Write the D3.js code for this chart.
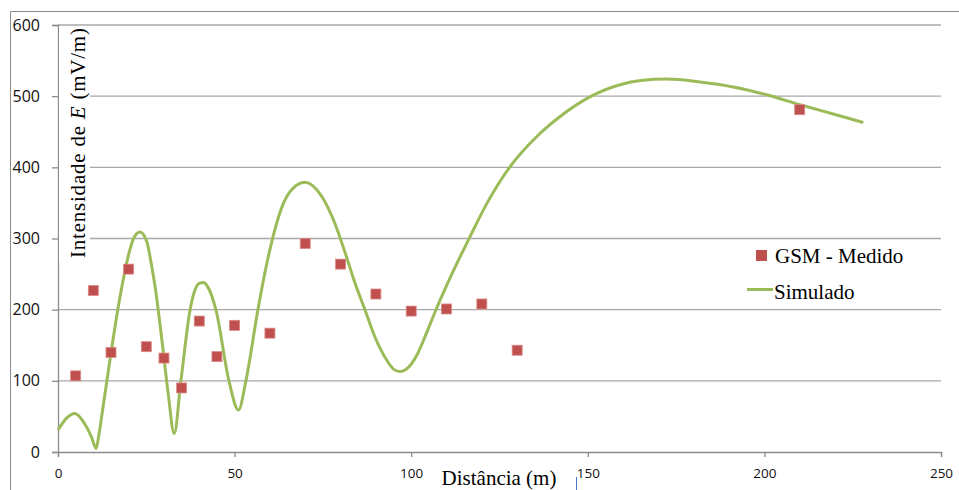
<!DOCTYPE html>
<html>
<head>
<meta charset="utf-8">
<script src="https://cdn.jsdelivr.net/npm/d3@7"></script>
<style>
  html, body { margin: 0; padding: 0; background: #fff; }
  svg { display: block; }
</style>
</head>
<body>
<svg id="chart" width="959" height="490"></svg>
<script>
// Measured field strength (GSM) at each distance
const measuredX = [5, 10, 15, 20, 25, 30, 35, 40, 45, 50, 60, 70, 80, 90, 100, 110, 120, 130, 210];
const measuredY = [107, 227, 140, 257, 148, 132, 90, 184, 134, 178, 167, 293, 264, 222, 198, 201, 208, 143, 481];

// Simulated field strength along the path
const simX = [0, 2.5, 4.8, 7.5, 9.5, 10.8, 11.6, 12.8, 14.2, 15.7, 18, 20.4, 21.4, 23.2, 25.1, 26.5, 27.5, 29.4,
  31.2, 32.9, 34.8, 37.4, 38.8, 40, 41.1, 42.4, 44.7, 48.4, 51.1, 53.2, 56.6, 59, 60.5, 62, 63.3, 66.2,
  69.9, 74.7, 78.4, 81.3, 84.1, 86.9, 89.7, 93.1, 95, 96.8, 98.5, 100.1, 101.8, 103.4, 107.2, 111.9, 116.6,
  121.4, 128, 135.5, 143.1, 150.6, 159.1, 165, 172.3, 181.8, 191.2, 200.6, 210.1, 219.5, 228];
const simY = [31, 48, 54, 40, 21, 5, 25, 65, 112, 162, 230, 285, 300, 309, 296, 262, 232, 158,
  82, 26, 100, 200, 228, 237, 238, 232, 200, 100, 59, 100, 200, 262, 295, 323, 343, 369,
  379, 359, 321, 280, 237, 200, 162, 129, 116.5, 113, 116, 124, 138, 156, 202, 254, 302,
  349, 401, 443, 475, 499, 516, 522, 524, 520, 513, 502, 488, 475, 463];

const xTicks = [0, 50, 100, 150, 200, 250];
const yTicks = [0, 100, 200, 300, 400, 500, 600];

const seriesNames = ["GSM - Medido", "Simulado"];
const measuredColor = "#C0504D";
const simColor = "#9BBB59";

const svg = d3.select("#chart");

const x = d3.scaleLinear().domain([0, 250]).range([58, 941]);
const y = d3.scaleLinear().domain([0, 600]).range([452, 25]);

// outer chart frame (top and left edges in view)
svg.append("path")
  .attr("d", "M10.5,490 L10.5,11.5 L959,11.5")
  .attr("fill", "none")
  .attr("stroke", "#8c8c8c")
  .attr("stroke-width", 1);

// horizontal gridlines
svg.append("g")
  .selectAll("line")
  .data(yTicks.filter(d => d > 0))
  .join("line")
  .attr("x1", x(0)).attr("x2", x(250))
  .attr("y1", d => y(d)).attr("y2", d => y(d))
  .attr("stroke", "#a8a8a8")
  .attr("stroke-width", 1.3);

// y axis
const yAxis = d3.axisLeft(y).tickValues(yTicks).tickSize(6).tickPadding(12).tickFormat(d3.format("d"));
const gy = svg.append("g").attr("transform", `translate(${x(0)},0)`).call(yAxis);
gy.select(".domain").attr("stroke", "#8c8c8c").attr("stroke-width", 1.3);
gy.selectAll(".tick line").attr("stroke", "#8c8c8c").attr("stroke-width", 1.3);
gy.selectAll(".tick text")
  .attr("font-family", "'Open Sans', sans-serif")
  .attr("font-size", 16)
  .attr("fill", "#111");

// x axis
const xAxis = d3.axisBottom(x).tickValues(xTicks).tickSize(5).tickPadding(11).tickFormat(d3.format("d"));
const gx = svg.append("g").attr("transform", `translate(0,${y(0)})`).call(xAxis);
gx.select(".domain").attr("stroke", "#8c8c8c").attr("stroke-width", 1.3);
gx.selectAll(".tick line").attr("stroke", "#8c8c8c").attr("stroke-width", 1.3);
gx.selectAll(".tick text")
  .attr("font-family", "'Open Sans', sans-serif")
  .attr("font-size", 13.5)
  .attr("fill", "#111");

// simulated curve
const simData = simX.map((d, i) => [d, simY[i]]);
svg.append("path")
  .datum(simData)
  .attr("fill", "none")
  .attr("stroke", simColor)
  .attr("stroke-width", 3)
  .attr("stroke-linejoin", "round")
  .attr("d", d3.line().x(d => x(d[0])).y(d => y(d[1])).curve(d3.curveMonotoneX));

// measured points
const ms = 10;
svg.append("g")
  .selectAll("rect")
  .data(measuredX.map((d, i) => [d, measuredY[i]]))
  .join("rect")
  .attr("x", d => x(d[0]) - ms / 2)
  .attr("y", d => y(d[1]) - ms / 2)
  .attr("width", ms).attr("height", ms)
  .attr("fill", measuredColor)
  .attr("stroke", "#d98b89")
  .attr("stroke-width", 0.8);

// y-axis title on a white panel
svg.append("rect")
  .attr("x", 59).attr("y", 27).attr("width", 31).attr("height", 235)
  .attr("fill", "#fff");
const yTitle = svg.append("text")
  .attr("transform", "translate(85,258) rotate(-90)")
  .attr("font-family", "'Liberation Serif', 'Times New Roman', serif")
  .attr("font-size", 21)
  .attr("fill", "#000")
  .attr("textLength", 230)
  .attr("lengthAdjust", "spacing");
yTitle.append("tspan").text("Intensidade de ");
yTitle.append("tspan").attr("font-style", "italic").text("E");
yTitle.append("tspan").text(" (mV/m)");

// x-axis title
svg.append("text")
  .attr("x", 499).attr("y", 485)
  .attr("text-anchor", "middle")
  .attr("font-family", "'Liberation Serif', 'Times New Roman', serif")
  .attr("font-size", 21)
  .attr("fill", "#000")
  .text("Distância (m)");

// text caret mark
svg.append("line")
  .attr("x1", 576.5).attr("x2", 576.5)
  .attr("y1", 477).attr("y2", 490)
  .attr("stroke", "#4a78c8").attr("stroke-width", 1);

// legend
const legend = svg.append("g");
legend.append("rect")
  .attr("x", 756).attr("y", 250).attr("width", 11).attr("height", 11)
  .attr("fill", measuredColor);
legend.append("text")
  .attr("x", 775).attr("y", 263)
  .attr("font-family", "'Liberation Serif', 'Times New Roman', serif")
  .attr("font-size", 21).attr("fill", "#000")
  .text(seriesNames[0]);
legend.append("line")
  .attr("x1", 747).attr("x2", 773)
  .attr("y1", 289.5).attr("y2", 289.5)
  .attr("stroke", simColor).attr("stroke-width", 3);
legend.append("text")
  .attr("x", 774).attr("y", 299)
  .attr("font-family", "'Liberation Serif', 'Times New Roman', serif")
  .attr("font-size", 21).attr("fill", "#000")
  .text(seriesNames[1]);
</script>
</body>
</html>
